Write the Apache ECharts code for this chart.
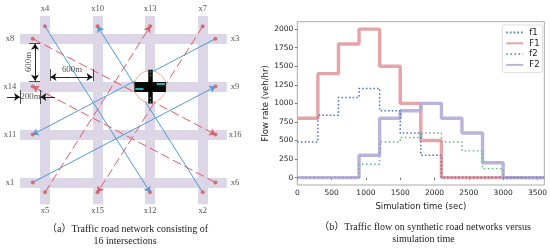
<!DOCTYPE html>
<html><head><meta charset="utf-8">
<style>html,body{margin:0;padding:0;background:#fff}#c{width:550px;height:248px;filter:blur(0.3px)}</style>
<script src="https://cdn.jsdelivr.net/npm/echarts@6/dist/echarts.min.js"></script>
</head><body><div id="c"></div>
<script>
// ---- right panel data ----
const binEdges = [0,300,600,900,1200,1500,1800,2100,2400,2700,3000,3300,3600];
const f1Values = [480,840,1080,1200,900,600,300,0,0,0,0,0,0];
const F1Values = [800,1400,1800,2000,1500,1000,500,0,0,0,0,0,0];
const f2Values = [0,0,0,180,480,540,600,480,360,120,0,0,0];
const F2Values = [0,0,0,300,800,900,1000,800,600,200,0,0,0];
const xTicks = [0,500,1000,1500,2000,2500,3000,3500];
const yTicks = [0,250,500,750,1000,1250,1500,1750,2000];
// ---- left panel data (metres; intersections at 0/600/1200/1800) ----
const roadLines = [0,600,1200,1800];
const roadNear = -285, roadFar = 2075;
const columnTops = [['x4',0],['x10',600],['x13',1200],['x7',1800]];
const columnBottoms = [['x5',0],['x15',600],['x12',1200],['x2',1800]];
const rowLefts = [['x8',0],['x14',600],['x11',1200],['x1',1800]];
const rowRights = [['x3',0],['x9',600],['x16',1200],['x6',1800]];
const blueFlows = [['x4','x12'],['x2','x10'],['x3','x11'],['x1','x9']];
const redFlows = [['x5','x13'],['x7','x15'],['x8','x16'],['x6','x14']];
const hub = [1200,600];

const SANS='"DejaVu Sans"', SERIF='"Liberation Serif","Noto Sans CJK SC",serif';
const stubTop=-155, stubBottom=1925, stubLeft=-140, stubRight=1945;
const pts={};
columnTops.forEach(([n,x])=>pts[n]=[x,stubTop]);
columnBottoms.forEach(([n,x])=>pts[n]=[x,stubBottom]);
rowLefts.forEach(([n,y])=>pts[n]=[stubLeft,y]);
rowRights.forEach(([n,y])=>pts[n]=[stubRight,y]);

const pairs=a=>binEdges.slice(0,a.length).map((t,i)=>[t,a[i]]);
const seg=(a,b)=>({coords:[a,b]});
const dg={xAxisIndex:1,yAxisIndex:1,coordinateSystem:'cartesian2d'};
const linesS=(data,style,z,extra)=>Object.assign({type:'lines',silent:true,data,lineStyle:style,z,symbol:['none','none'],effect:{show:false}},dg,extra||{});

const roads=[];
roadLines.forEach(v=>{roads.push(seg([v,roadNear],[v,roadFar]));roads.push(seg([roadNear,v],[roadFar,v]));});

const labelOffset=n=>{
  if(columnTops.some(c=>c[0]==n))return [pts[n][0],-372];
  if(columnBottoms.some(c=>c[0]==n))return [pts[n][0],2156];
  if(rowLefts.some(c=>c[0]==n))return [-400,pts[n][1]];
  return [2170,pts[n][1]];
};
const textData=Object.keys(pts).map(n=>({name:n,value:labelOffset(n)}));
const dimText=[{name:'600m',value:[308,392]},{name:'200m',value:[-165,730]}];

const option={
  animation:false,
  textStyle:{fontFamily:SANS},
  grid:[
    {left:297.3,top:21.7,width:248,height:163.3,show:true,borderColor:'#ababab',borderWidth:1,backgroundColor:'#fff'},
    {left:1.2,top:6.8,width:245.3,height:215.5,show:false}
  ],
  xAxis:[
    {type:'value',gridIndex:0,min:0,max:3600,
     name:'Simulation time (sec)',nameLocation:'middle',nameGap:11,nameTextStyle:{fontSize:8.5,color:'#222'},
     axisLine:{show:false},axisTick:{show:true,length:2.5,lineStyle:{color:'#777'},customValues:xTicks},splitLine:{show:false},
     axisLabel:{fontSize:7.5,color:'#222',margin:4,customValues:xTicks,formatter:v=>String(v)}},
    {type:'value',gridIndex:1,min:-500,max:2300,show:false}
  ],
  yAxis:[
    {type:'value',gridIndex:0,min:-100,max:2100,
     name:'Flow rate (veh/hr)',nameLocation:'middle',nameGap:13,nameTextStyle:{fontSize:8.5,color:'#222'},
     axisLine:{show:false},axisTick:{show:true,length:2.5,lineStyle:{color:'#777'},customValues:yTicks},splitLine:{show:false},
     axisLabel:{fontSize:7.5,color:'#222',margin:4,customValues:yTicks,formatter:v=>String(v)}},
    {type:'value',gridIndex:1,min:-400,max:2300,inverse:true,show:false}
  ],
  legend:{
    orient:'vertical',left:502.3,top:25,padding:[3,3,3,3],itemGap:1.8,itemWidth:17,itemHeight:10,
    borderColor:'#ddd',borderWidth:1,borderRadius:2,backgroundColor:'#fff',
    itemStyle:{opacity:0},
    textStyle:{fontSize:8.5,color:'#222',fontFamily:SANS,padding:[0,0,0,1]},
    data:[{name:'f1'},{name:'F1'},{name:'f2'},{name:'F2'}]
  },
  graphic:[
    {type:'text',silent:true,x:127.5,y:229,style:{text:'（a）Traffic road network consisting of',font:'10px '+SERIF,fill:'#222',align:'center',verticalAlign:'middle'}},
    {type:'text',silent:true,x:125,y:241,style:{text:'16 intersections',font:'10px '+SERIF,fill:'#222',align:'center',verticalAlign:'middle'}},
    {type:'text',silent:true,x:425,y:227,style:{text:'（b）Traffic flow on synthetic road networks versus',font:'10px '+SERIF,fill:'#222',align:'center',verticalAlign:'middle'}},
    {type:'text',silent:true,x:423.5,y:239,style:{text:'simulation time',font:'10px '+SERIF,fill:'#222',align:'center',verticalAlign:'middle'}}
  ],
  series:[
    {name:'F1',type:'line',step:'end',data:pairs(F1Values),showSymbol:false,symbol:'none',z:2,
     lineStyle:{color:'#e6a3a8',width:3.4},itemStyle:{color:'#e6a3a8'}},
    {name:'F2',type:'line',step:'end',data:pairs(F2Values),showSymbol:false,symbol:'none',z:2,
     lineStyle:{color:'#b5abd9',width:3.4,opacity:.9},itemStyle:{color:'#b5abd9'}},
    {name:'f1',type:'line',step:'end',data:pairs(f1Values),showSymbol:false,symbol:'none',z:3,
     lineStyle:{color:'#4a72c0',width:1.5,type:[1.5,2.2]},itemStyle:{color:'#4a72c0'}},
    {name:'f2',type:'line',step:'end',data:pairs(f2Values),showSymbol:false,symbol:'none',z:3,
     lineStyle:{color:'#5cb57c',width:1.4,type:[1.5,2.6]},itemStyle:{color:'#5cb57c'}},

    // road grid
    linesS(roads,{color:'#dcd6e6',width:10,opacity:1},1),
    // OD flows
    linesS(blueFlows.map(([a,b])=>seg(pts[a],pts[b])),{color:'#4f9ad8',width:1,opacity:1},3,{symbol:['none','arrow'],symbolSize:6}),
    linesS(redFlows.map(([a,b])=>seg(pts[a],pts[b])),{color:'#dd5a66',width:1,type:[9,4],opacity:1},3,{symbol:['none','arrow'],symbolSize:6}),
    // OD points
    Object.assign({type:'scatter',silent:true,symbol:'circle',symbolSize:4,z:4,itemStyle:{color:'#cf5a5a'},data:Object.values(pts)},dg),
    // terminal names
    Object.assign({type:'scatter',silent:true,symbolSize:0,z:5,data:textData,
      label:{show:true,position:'inside',formatter:'{b}',fontSize:8.5,color:'#222',fontFamily:SERIF}},dg),
    // dimension annotations
    Object.assign({type:'scatter',silent:true,symbolSize:0,z:6,data:dimText,
      label:{show:true,position:'inside',formatter:'{b}',fontSize:8.8,color:'#222',fontFamily:SERIF}},dg),
    Object.assign({type:'scatter',silent:true,symbolSize:0,z:6,data:[{name:'600m',value:[-183,292]}],
      label:{show:true,position:'inside',rotate:90,formatter:'{b}',fontSize:8.8,color:'#222',fontFamily:SERIF}},dg),
    linesS([seg([-183,58],[-57,58]),seg([-183,530],[-57,530]),seg([57,380],[57,530]),seg([548,380],[548,530]),seg([-280,643],[-280,818]),seg([-57,643],[-57,818])],{color:'#222',width:.8,opacity:1},6),
    linesS([seg([-114,294],[-114,62]),seg([-114,294],[-114,526]),seg([302,480],[62,480]),seg([302,480],[543,480]),seg([-434,730],[-285,730]),seg([114,730],[-52,730])],{color:'#111',width:.9,opacity:1},6,{symbol:['none','arrow'],symbolSize:6}),
    // instrumented intersection
    Object.assign({type:'custom',silent:true,z:7,clip:false,data:[hub],encode:{x:0,y:1},
      renderItem:(p,api)=>{const c=api.coord([api.value(0),api.value(1)]);
        return {type:'circle',shape:{cx:c[0],cy:c[1],r:16},style:{fill:'#fff',stroke:'#eeb09f',lineWidth:1}};}},dg),
    linesS([seg([1020,600],[1380,600])],{color:'#0a0a0a',width:10,opacity:1},8),
    linesS([seg([1200,390],[1200,810])],{color:'#0a0a0a',width:4.5,opacity:1},8),
    linesS([seg([1030,632],[1125,632]),seg([1275,565],[1370,565])],{color:'#28b0b0',width:2,opacity:1},9),
    linesS([seg([1200,400],[1200,470]),seg([1200,730],[1200,800])],{color:'#4a9a50',width:1.2,type:[2,2],opacity:1},9),
    Object.assign({type:'custom',silent:true,z:10,clip:false,data:[hub],encode:{x:0,y:1},
      renderItem:(p,api)=>{const c=api.coord([api.value(0),api.value(1)]);
        return {type:'circle',shape:{cx:c[0],cy:c[1],r:5},style:{fill:'#000'}};}},dg)
  ]
};
echarts.init(document.getElementById('c'),null,{renderer:'canvas'}).setOption(option);
</script></body></html>
